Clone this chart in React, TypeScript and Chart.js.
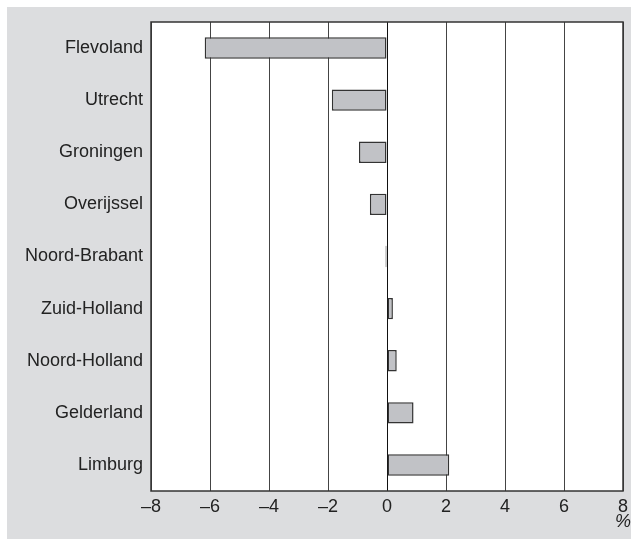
import React, { useEffect, useRef } from "react";
import { Chart, registerables } from "chart.js";

Chart.register(...registerables);

const provinces = [
  "Flevoland",
  "Utrecht",
  "Groningen",
  "Overijssel",
  "Noord-Brabant",
  "Zuid-Holland",
  "Noord-Holland",
  "Gelderland",
  "Limburg",
];
const changes = [-6.18, -1.87, -0.95, -0.58, -0.05, 0.2, 0.33, 0.9, 2.11];
const xMin = -8;
const xMax = 8;
const xStep = 2;
const unitLabel = "%";

const FONT = "'Liberation Sans', Arial, Helvetica, sans-serif";
const W = 624;
const H = 532;

export default function App() {
  const ref = useRef<HTMLCanvasElement | null>(null);

  useEffect(() => {
    if (!ref.current) return;
    const framePlugin = {
      id: "framePlugin",
      afterDraw(chart: any) {
        const { ctx, scales, chartArea } = chart;
        ctx.save();
        ctx.strokeStyle = "#333";
        ctx.lineWidth = 1.5;
        ctx.strokeRect(
          chartArea.left,
          chartArea.top,
          chartArea.right - chartArea.left,
          chartArea.bottom - chartArea.top
        );
        const x = scales.x.getPixelForValue(xMax);
        ctx.font = `italic 18px ${FONT}`;
        ctx.fillStyle = "#222";
        ctx.textAlign = "center";
        ctx.textBaseline = "middle";
        ctx.fillText(unitLabel, x, chartArea.bottom + 31);
        ctx.restore();
      },
    };
    const bgPlugin = {
      id: "bgPlugin",
      beforeDraw(chart: any) {
        const { ctx, chartArea } = chart;
        ctx.save();
        ctx.fillStyle = "#ffffff";
        ctx.fillRect(
          chartArea.left,
          chartArea.top,
          chartArea.right - chartArea.left,
          chartArea.bottom - chartArea.top
        );
        ctx.restore();
      },
    };
    const chart = new Chart(ref.current, {
      type: "bar",
      data: {
        labels: provinces,
        datasets: [
          {
            data: changes,
            backgroundColor: "#c1c2c6",
            borderColor: "#333333",
            borderWidth: 1.5,
            borderSkipped: false,
            categoryPercentage: 1,
            barPercentage: 0.41,
          },
        ],
      },
      options: {
        indexAxis: "y",
        animation: false,
        responsive: false,
        maintainAspectRatio: false,
        layout: { padding: { top: 15, right: 8, left: 0, bottom: 0 } },
        plugins: { legend: { display: false }, tooltip: { enabled: false } },
        scales: {
          x: {
            type: "linear",
            min: xMin,
            max: xMax,
            afterFit(scale: any) {
              scale.height = 48;
              scale.paddingLeft = 0;
              scale.paddingRight = 0;
            },
            ticks: {
              stepSize: xStep,
              padding: 5,
              color: "#222",
              font: { family: FONT, size: 18 },
              callback: (v: any) => String(v).replace("-", "\u2013"),
            },
            grid: {
              color: (c: any) => (c.tick && c.tick.value === 0 ? "#111" : "#444"),
              lineWidth: 1,
              drawTicks: false,
              z: -1,
            },
            border: { display: false },
          },
          y: {
            afterFit(scale: any) {
              scale.width = 144;
              scale.paddingTop = 0;
              scale.paddingBottom = 0;
            },
            ticks: {
              padding: 8,
              color: "#222",
              font: { family: FONT, size: 18 },
            },
            grid: { display: false, drawTicks: false },
            border: { display: false },
          },
        },
      },
      plugins: [bgPlugin, framePlugin],
    });
    return () => chart.destroy();
  }, []);

  return (
    <div
      style={{
        position: "absolute",
        left: 7,
        top: 7,
        width: W,
        height: H,
        background: "#dcdddf",
      }}
    >
      <canvas ref={ref} width={W} height={H} style={{ display: "block" }} />
    </div>
  );
}
